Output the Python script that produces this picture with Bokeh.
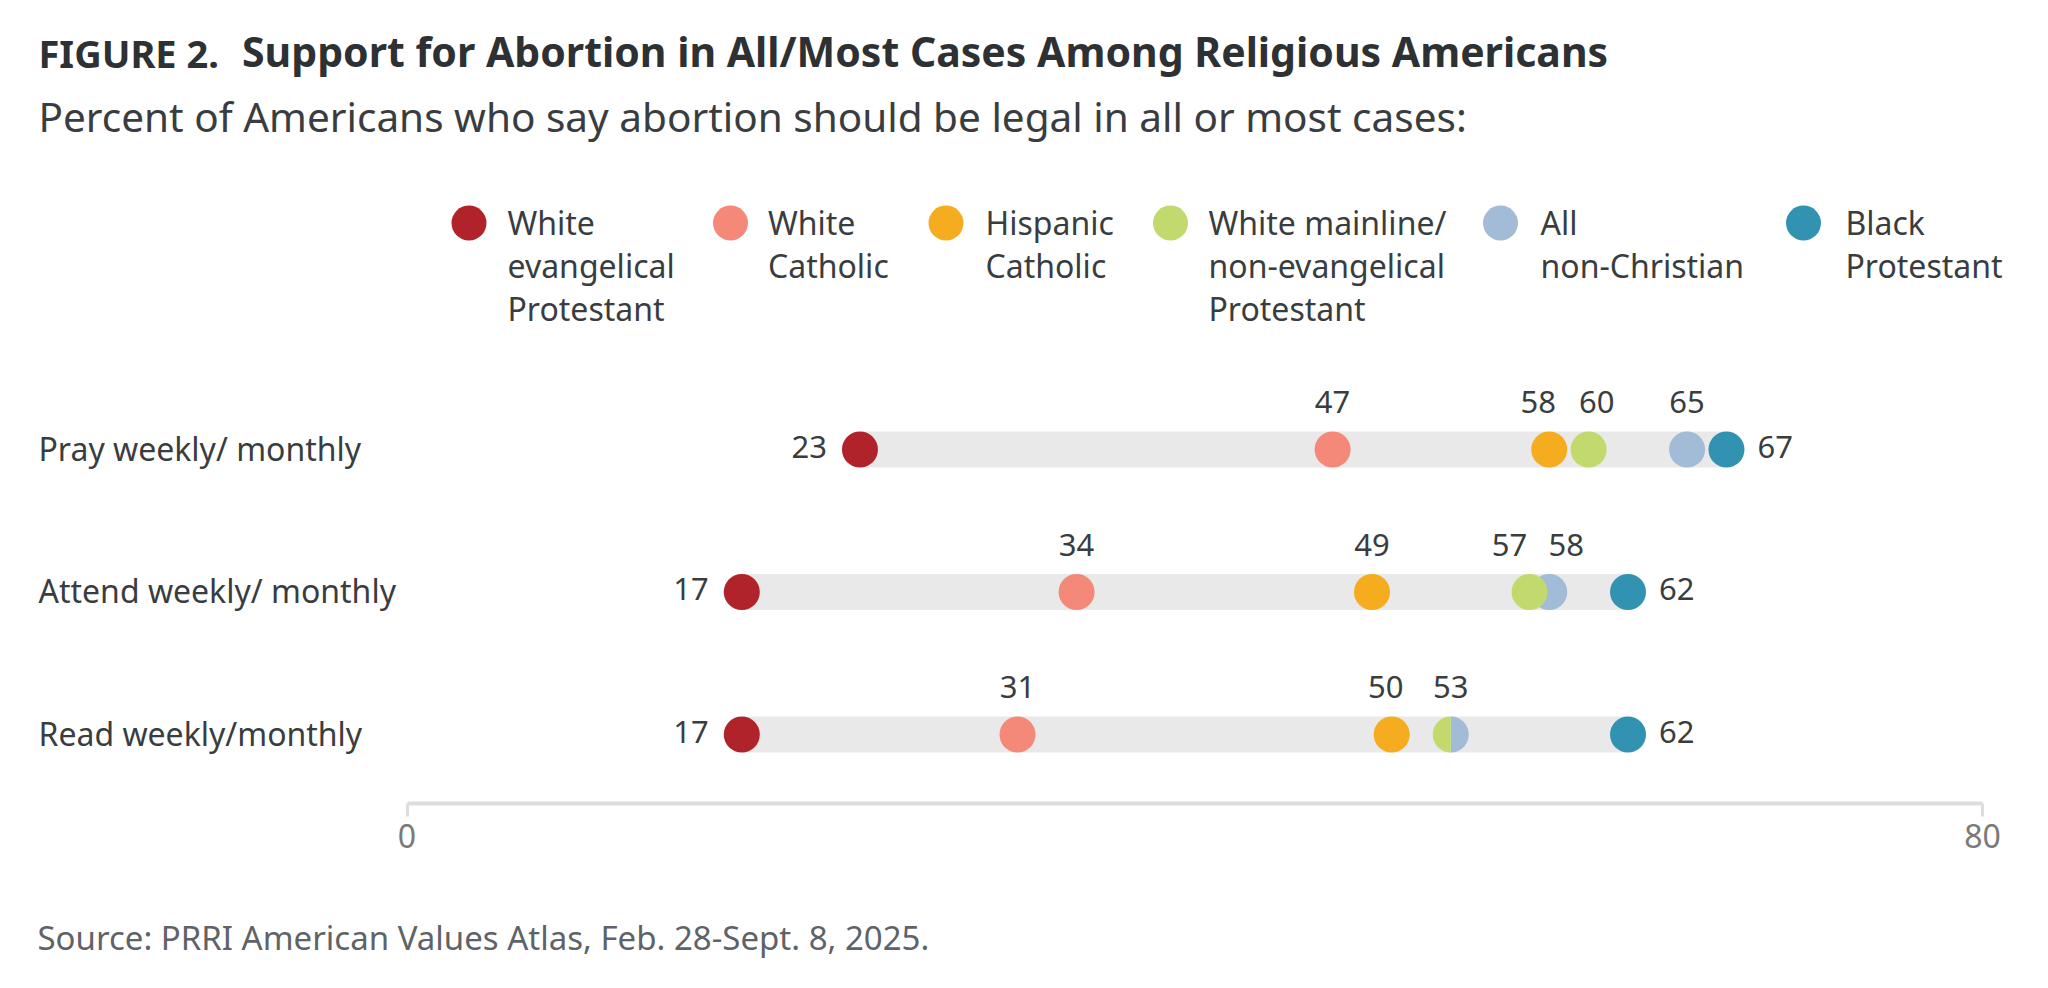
import math
from bokeh.plotting import figure
from bokeh.models import Range1d, LinearAxis, FixedTicker
from bokeh.core.properties import value
from bokeh.embed import file_html
from bokeh.resources import INLINE

# ---------------- data ----------------
rows = ["Pray weekly/ monthly", "Attend weekly/ monthly", "Read weekly/monthly"]
groups = ["White evangelical Protestant", "White Catholic", "Hispanic Catholic",
          "White mainline/non-evangelical Protestant", "All non-Christian", "Black Protestant"]
legend_lines = [["White", "evangelical", "Protestant"], ["White", "Catholic"],
                ["Hispanic", "Catholic"], ["White mainline/", "non-evangelical", "Protestant"],
                ["All", "non-Christian"], ["Black", "Protestant"]]
white_evangelical = [23, 17, 17]
white_catholic = [47, 34, 31]
hispanic_catholic = [58, 49, 50]
white_mainline = [60, 57, 53]
all_non_christian = [65, 58, 53]
black_protestant = [67, 62, 62]
x_ticks = [0, 80]

title_lead = "FIGURE 2."
title_text = "Support for Abortion in All/Most Cases Among Religious Americans"
subtitle_text = "Percent of Americans who say abortion should be legal in all or most cases:"
source_text = "Source: PRRI American Values Atlas, Feb. 28-Sept. 8, 2025."

# ---------------- style ----------------
colors = ["#b1232a", "#f4897a", "#f6ac1f", "#c1d96d", "#a2bbd6", "#3193b1"]
series = [white_evangelical, white_catholic, hispanic_catholic,
          white_mainline, all_non_christian, black_protestant]
draw_order = [0, 1, 2, 4, 3, 5]
FONT = value("Noto Sans")
DARK = "#2e3133"
TEXT = "#3a3d40"
MIDF = 0.42

W, H = 2048, 988
X0 = 406.5                 # pixel of value 0
PPU = (1982 - 406.5) / 80  # pixels per percentage point
ROW0 = 449                 # pixel of first row centre
PITCH = 142.5


def fx(sx):
    return (sx - X0) / PPU


def fy(sy):
    return (sy - ROW0) / PITCH


def mid(baseline, size):
    # y (data) of the text middle for a given pixel baseline
    return fy(baseline - MIDF * size)


p = figure(width=W, height=H, output_backend="svg", toolbar_location=None,
           x_axis_type=None, y_axis_type=None,
           x_range=Range1d(-X0 / PPU, (W - X0) / PPU),
           y_range=Range1d((H - ROW0) / PITCH, -ROW0 / PITCH),
           min_border=0, outline_line_color=None, background_fill_color="white",
           border_fill_color="white")

p.text(x=[fx(38)], y=[mid(68, 38)], text=[title_lead], text_font=FONT, text_font_style="bold",
       text_font_size="38px", text_color=DARK, text_baseline="middle")
p.text(x=[fx(241.5)], y=[mid(68, 41)], text=[title_text], text_font=FONT, text_font_style="bold",
       text_font_size="41px", text_color=DARK, text_baseline="middle")
p.text(x=[fx(38)], y=[mid(133, 40.5)], text=[subtitle_text], text_font=FONT,
       text_font_size="40.5px", text_color=TEXT, text_baseline="middle")
p.text(x=[fx(37)], y=[mid(951, 33)], text=[source_text], text_font=FONT,
       text_font_size="33px", text_color="#5f6368", text_baseline="middle")

# legend
LS = 32
leg_cx = [468.5, 730, 945.5, 1170, 1500, 1803]
leg_tx = [507, 767.5, 985, 1208, 1540, 1845]
for i, lines in enumerate(legend_lines):
    p.scatter(x=[fx(leg_cx[i])], y=[fy(222.5)], size=35, marker="circle",
              fill_color=colors[i], line_color=None)
    p.text(x=[fx(leg_tx[i])] * len(lines),
           y=[mid(235.5 + 43 * k, LS) for k in range(len(lines))],
           text=lines, text_font=FONT, text_font_size=f"{LS}px", text_color=TEXT,
           text_baseline="middle")

# row labels
RS = 32
p.text(x=[fx(38)] * len(rows), y=[r + (12 - MIDF * RS) / PITCH for r in range(len(rows))],
       text=rows, text_font=FONT, text_font_size=f"{RS}px", text_color=TEXT,
       text_baseline="middle")

# bars
mins = [min(s[r] for s in series) for r in range(len(rows))]
maxs = [max(s[r] for s in series) for r in range(len(rows))]
p.hbar(y=list(range(len(rows))), left=mins, right=maxs, height=36 / PITCH,
       fill_color="#e8e9e8", line_color=None)

# dots
for gi in draw_order:
    xs, ys = [], []
    for r in range(len(rows)):
        tie = white_mainline[r] == all_non_christian[r]
        if tie and gi in (3, 4):
            start, end = (math.pi / 2, 3 * math.pi / 2) if gi == 3 else (-math.pi / 2, math.pi / 2)
            p.wedge(x=[series[gi][r]], y=[r], radius=18, radius_units="screen",
                    start_angle=start, end_angle=end, fill_color=colors[gi], line_color=None)
        else:
            xs.append(series[gi][r])
            ys.append(r)
    p.scatter(x=xs, y=ys, size=36, marker="circle", fill_color=colors[gi], line_color=None)

# value labels
VS = 31
nudge = {(0, 58): -11, (0, 60): 8, (1, 57): -20, (1, 58): 17, (2, 50): -6}
side_y = (10.5 - MIDF * VS) / PITCH
top_y = (-34 - MIDF * VS) / PITCH
for r in range(len(rows)):
    vals = sorted(set(s[r] for s in series))
    lo, hi = vals[0], vals[-1]
    p.text(x=[lo], y=[r + side_y], text=[str(lo)], x_offset=-33, text_align="right",
           text_font=FONT, text_font_size=f"{VS}px", text_color=TEXT, text_baseline="middle")
    p.text(x=[hi], y=[r + side_y], text=[str(hi)], x_offset=31, text_align="left",
           text_font=FONT, text_font_size=f"{VS}px", text_color=TEXT, text_baseline="middle")
    mids = vals[1:-1]
    p.text(x=mids, y=[r + top_y] * len(mids), text=[str(v) for v in mids],
           x_offset=[nudge.get((r, v), 0) for v in mids], text_align="center",
           text_font=FONT, text_font_size=f"{VS}px", text_color=TEXT, text_baseline="middle")

# axis
ax = LinearAxis(fixed_location=fy(802.5), ticker=FixedTicker(ticks=x_ticks), bounds=(0, 80),
                axis_line_color="#dcdddd", axis_line_width=4,
                major_tick_line_color="#dcdddd", major_tick_line_width=3,
                major_tick_out=13, major_tick_in=0, minor_tick_line_color=None,
                major_label_text_font="Noto Sans", major_label_text_font_size="32px",
                major_label_text_color="#7a7a7a", major_label_standoff=8)
p.add_layout(ax, "below")

open("out.html", "w").write(file_html(p, INLINE))
